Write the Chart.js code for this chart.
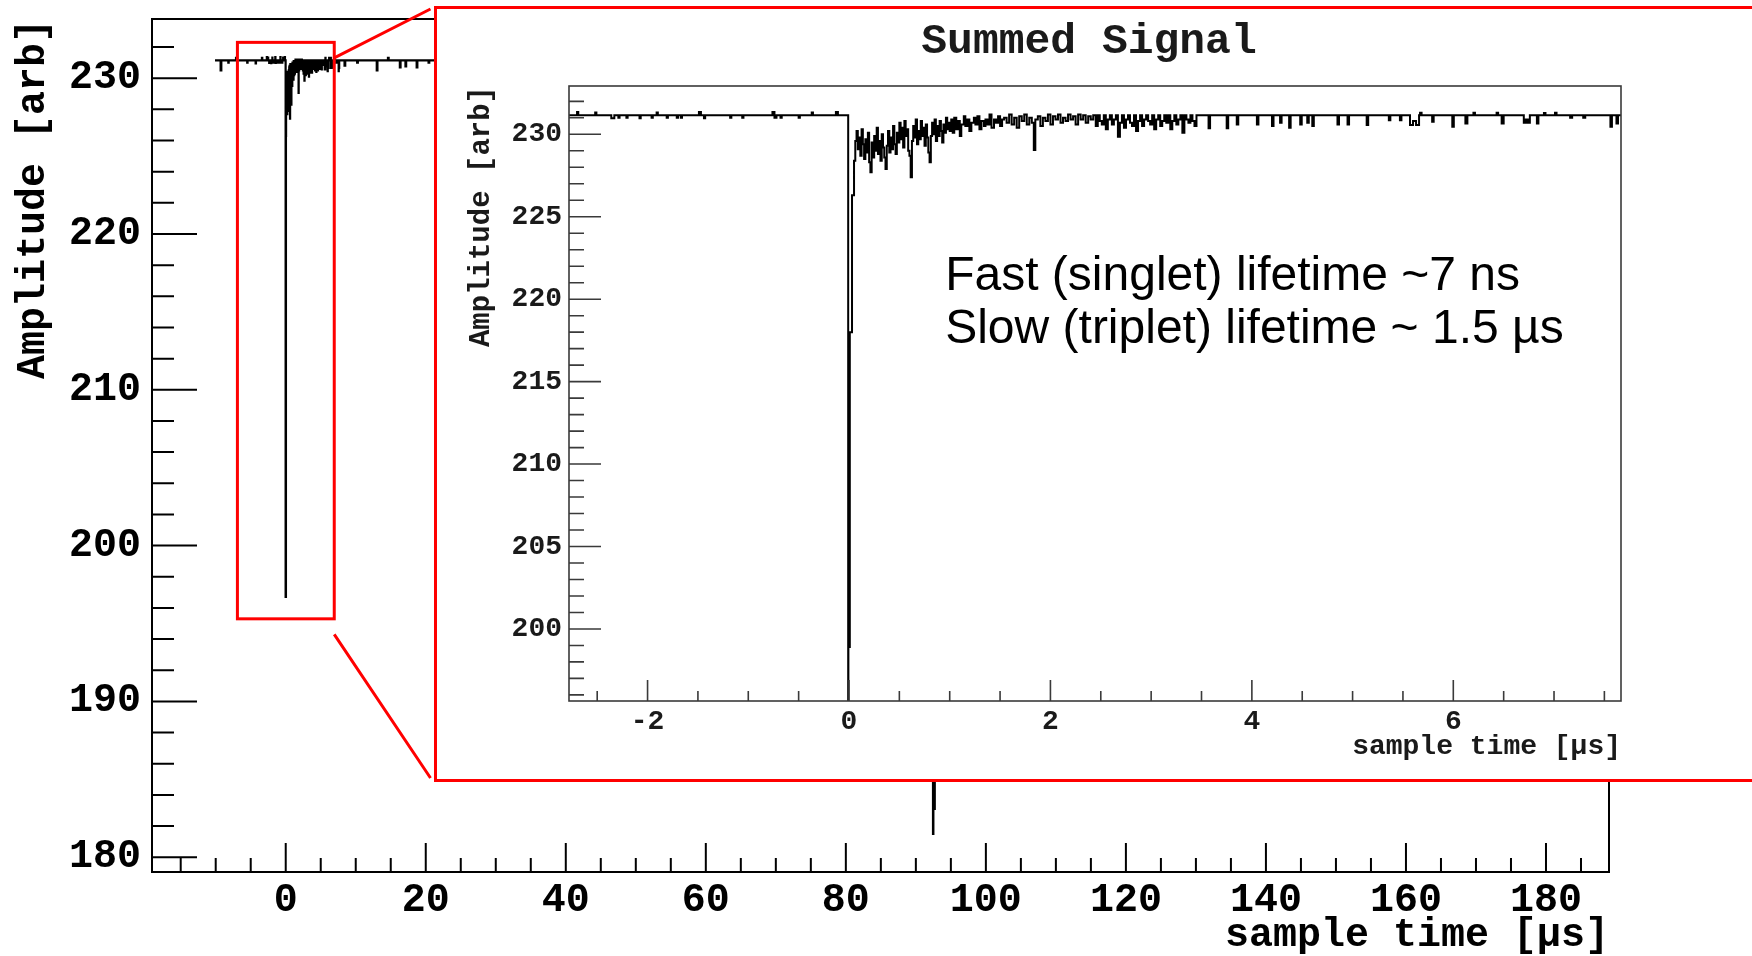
<!DOCTYPE html>
<html>
<head>
<meta charset="utf-8">
<script src="https://cdn.jsdelivr.net/npm/chart.js@4.4.0/dist/chart.umd.min.js"></script>
<style>
  html, body { margin: 0; padding: 0; background: #fff; overflow: hidden; }
  #page { position: relative; width: 1752px; height: 956px; overflow: hidden; }
  #mainChart { position: absolute; left: 0; top: 0; }
  #insetBox { position: absolute; left: 434px; top: 6px; width: 1330px; height: 770px;
              border: 3px solid #ff0000; background: #fff; }
  #insetChart { position: absolute; left: 0; top: 0; }
</style>
</head>
<body>
<div id="page">
  <canvas id="mainChart" width="1752" height="956"></canvas>
  <div id="insetBox"><canvas id="insetChart" width="1315" height="770"></canvas></div>
</div>
<script>
// Summed PMT signal - full record plus zoom on the prompt pulse

// tick labels
const mainXTicks = [0, 20, 40, 60, 80, 100, 120, 140, 160, 180];
const mainYTicks = [180, 190, 200, 210, 220, 230];
const insetXTicks = [-2, 0, 2, 4, 6];
const insetYTicks = [200, 205, 210, 215, 220, 225, 230];

// waveform samples [time µs, amplitude arb]
const mainEarly = [
  [-10.1, 231.15], [-9.3, 230.5], [-9.2, 231.15], [-8.2, 231.0], [-8.15, 231.15],
  [-7.1, 231.3], [-7.05, 231.15], [-5.5, 231.0], [-5.45, 231.15], [-4.3, 230.95],
  [-4.25, 231.15], [-3.4, 231.3], [-3.35, 231.15]
];

const preTrigger = [
  [-2.90, 231.15], [-2.70, 231.35], [-2.688, 231.15], [-2.52, 231.32], [-2.508, 231.15],
  [-2.36, 230.98], [-2.33, 231.15], [-2.29, 231.0], [-2.278, 231.15], [-2.21, 231.0],
  [-2.198, 231.15], [-2.08, 230.97], [-2.068, 231.15], [-1.96, 231.0], [-1.948, 231.15],
  [-1.91, 231.32], [-1.898, 231.15], [-1.81, 231.0], [-1.798, 231.15], [-1.71, 231.0],
  [-1.698, 231.15], [-1.67, 231.0], [-1.658, 231.15], [-1.49, 231.35], [-1.47, 231.15],
  [-1.44, 230.98], [-1.428, 231.15], [-1.18, 231.0], [-1.168, 231.15], [-1.06, 231.0],
  [-1.048, 231.15], [-0.76, 231.35], [-0.74, 231.0], [-0.72, 231.15], [-0.68, 231.0],
  [-0.668, 231.15], [-0.50, 231.0], [-0.488, 231.15], [-0.37, 231.32], [-0.358, 231.15],
  [-0.13, 231.35], [-0.11, 231.15]
];

// fast component as seen in the full record and in the zoom
const promptMain = [[-0.015, 196.7], [0.03, 226.3]];
const promptInset = [[-0.008, 195.0], [-0.006, 198.9], [0.008, 218.0], [0.03, 226.3]];

const slowTail = [
  [0.0500, 228.4], [0.0625, 229.6], [0.0750, 230.2], [0.0875, 229.1], [0.1000, 229.8],
  [0.1125, 228.7], [0.1250, 230.3], [0.1375, 229.4], [0.1500, 228.5], [0.1625, 229.7],
  [0.1750, 228.9], [0.1875, 230.1], [0.2000, 228.3], [0.2125, 227.7], [0.2250, 229.5],
  [0.2375, 228.6], [0.2500, 229.9], [0.2625, 229.0], [0.2750, 230.4], [0.2875, 228.8],
  [0.3000, 229.6], [0.3125, 228.4], [0.3250, 230.0], [0.3375, 229.2], [0.3500, 228.6],
  [0.3625, 227.9], [0.3750, 229.3], [0.3875, 230.2], [0.4000, 228.9], [0.4125, 229.8],
  [0.4250, 229.1], [0.4375, 230.5], [0.4500, 229.4], [0.4625, 228.8], [0.4750, 230.1],
  [0.4875, 229.5], [0.5000, 230.7], [0.5125, 229.7], [0.5250, 230.4], [0.5375, 229.2],
  [0.5500, 230.8], [0.5625, 229.9], [0.5750, 230.3], [0.5875, 229.0], [0.6000, 228.7],
  [0.6125, 227.4], [0.6250, 229.6], [0.6375, 230.5], [0.6500, 229.8], [0.6625, 230.9],
  [0.6750, 229.4], [0.6875, 230.2], [0.7000, 229.7], [0.7125, 230.8], [0.7250, 229.9],
  [0.7375, 230.4], [0.7500, 229.3], [0.7625, 230.6], [0.7750, 229.8], [0.7875, 228.9],
  [0.8000, 228.3], [0.8125, 229.9], [0.8250, 230.7], [0.8375, 230.0], [0.8500, 230.9],
  [0.8625, 229.6], [0.8750, 230.5], [0.8875, 229.9], [0.9000, 230.8], [0.9125, 230.2],
  [0.9250, 229.5], [0.9375, 230.6], [0.9500, 230.1], [0.9625, 231.0], [0.9750, 230.3],
  [0.9875, 230.7], [1.000, 230.2], [1.015, 230.9], [1.030, 230.1], [1.045, 231.0],
  [1.065, 230.3], [1.080, 230.8], [1.100, 229.9], [1.115, 230.6], [1.140, 231.1],
  [1.155, 230.5], [1.175, 230.9], [1.195, 230.2], [1.215, 230.7], [1.240, 231.0],
  [1.255, 230.6], [1.275, 231.1], [1.295, 230.3], [1.315, 230.8], [1.340, 230.5],
  [1.355, 230.9], [1.375, 230.6], [1.395, 231.2], [1.415, 230.4], [1.440, 230.9],
  [1.460, 230.7], [1.480, 231.1], [1.500, 230.5], [1.520, 230.9], [1.540, 231.0],
  [1.565, 230.7], [1.590, 231.2], [1.615, 230.6], [1.640, 231.0], [1.665, 230.4],
  [1.690, 231.1], [1.715, 230.8], [1.740, 231.2], [1.765, 230.6], [1.790, 231.0],
  [1.815, 230.7], [1.835, 229.05], [1.850, 230.9], [1.875, 231.1], [1.900, 230.5],
  [1.925, 231.0], [1.950, 230.8], [1.975, 231.2], [2.000, 230.6], [2.025, 231.1],
  [2.050, 230.9], [2.075, 231.2], [2.100, 230.7], [2.125, 231.0], [2.150, 230.8],
  [2.175, 231.2], [2.200, 230.9], [2.225, 231.1], [2.250, 230.6], [2.275, 231.2],
  [2.300, 230.9], [2.325, 231.15], [2.350, 230.7], [2.375, 231.1], [2.400, 230.9],
  [2.425, 231.15]
];

const lateTail = [
  [2.45, 230.5], [2.47, 231.15], [2.49, 230.8], [2.51, 230.6], [2.53, 231.15], [2.55, 230.3],
  [2.57, 230.9], [2.59, 231.15], [2.61, 230.6], [2.63, 230.9], [2.65, 231.15], [2.67, 229.85],
  [2.69, 230.7], [2.71, 231.15], [2.73, 230.4], [2.75, 230.9], [2.77, 231.15], [2.79, 230.7],
  [2.81, 230.5], [2.83, 231.15], [2.85, 230.2], [2.87, 230.8], [2.89, 231.15], [2.91, 230.5],
  [2.93, 230.9], [2.95, 231.15], [2.97, 230.8], [2.99, 230.6], [3.01, 231.15], [3.03, 230.3],
  [3.05, 230.9], [3.07, 231.15], [3.09, 230.5], [3.11, 230.8], [3.13, 231.15], [3.15, 230.7],
  [3.17, 231.15], [3.19, 230.3], [3.21, 230.8], [3.23, 231.15], [3.25, 230.6], [3.27, 230.9],
  [3.29, 231.15], [3.31, 230.1], [3.33, 231.15], [3.35, 230.9], [3.37, 230.7], [3.39, 231.15],
  [3.41, 230.8], [3.43, 230.5], [3.45, 231.15],
  [3.57, 230.36], [3.585, 231.15], [3.75, 230.36], [3.765, 231.15], [3.85, 230.6], [3.865, 231.15],
  [4.05, 230.6], [4.065, 231.15], [4.20, 230.5], [4.215, 231.15], [4.28, 230.7], [4.295, 231.15],
  [4.37, 230.4], [4.385, 231.15], [4.48, 230.6], [4.495, 231.15], [4.55, 230.7], [4.565, 231.15],
  [4.60, 230.5], [4.615, 231.15], [4.85, 230.6], [4.865, 231.15], [4.95, 230.6], [4.965, 231.15],
  [5.14, 230.56], [5.155, 231.15], [5.36, 230.86], [5.375, 231.15], [5.47, 230.86], [5.485, 231.15],
  [5.57, 230.56], [5.60, 230.8], [5.63, 230.56], [5.66, 231.15], [5.67, 231.31], [5.685, 231.15],
  [5.79, 230.76], [5.805, 231.15], [5.99, 230.46], [6.005, 231.15], [6.12, 230.66], [6.14, 231.15],
  [6.20, 231.31], [6.215, 231.15], [6.43, 231.31], [6.445, 231.15], [6.48, 230.66], [6.50, 231.15],
  [6.70, 230.7], [6.72, 230.9], [6.74, 230.7], [6.76, 231.15], [6.83, 230.66], [6.845, 231.15],
  [6.90, 231.3], [6.915, 231.15], [7.01, 231.31], [7.025, 231.15], [7.16, 231.0], [7.18, 231.15],
  [7.29, 231.0], [7.31, 231.15], [7.56, 230.46], [7.575, 231.15], [7.62, 230.66], [7.635, 231.15],
  [7.72, 231.15]
];

// rest of the record, second pulse near 92.5 µs
const mainLate = [
  [7.75, 231.15], [8.4, 230.8], [8.5, 231.15], [10.2, 231.0], [10.3, 231.15], [13.0, 230.5],
  [13.1, 231.15], [14.6, 231.3], [14.7, 231.15], [16.3, 230.7], [16.4, 231.15], [17.1, 230.75],
  [17.2, 231.15], [18.7, 230.7], [18.8, 231.15], [20.4, 231.0], [20.5, 231.15], [92.45, 181.5],
  [92.5, 183.1], [92.7, 226.5], [92.9, 228.8], [93.2, 229.9], [93.8, 230.6], [94.8, 231.0],
  [96.0, 231.15], [188.0, 231.15]
];

// region of the full record shown in the zoom
const zoomBox = { xMin: -6.9, xMax: 6.93, yMin: 195.3, yMax: 232.3, linkTop: 231.3, linkBottom: 194.3 };

const monoFont = "'Liberation Mono', 'DejaVu Sans Mono', monospace";
const sansFont = "'Liberation Sans', Arial, sans-serif";

function toXY(rows) {
  return rows.map(r => ({ x: r[0], y: r[1] }));
}

function minorTicks(min, max, step) {
  const out = [];
  for (let v = Math.ceil(min / step) * step; v <= max + 1e-9; v += step) {
    out.push(Math.round(v * 1000) / 1000);
  }
  return out;
}

// keep the frame exactly where the layout padding puts it
function fixHeight(h) {
  return s => { s.height = h; s.paddingLeft = 0; s.paddingRight = 0; };
}
function fixWidth(w) {
  return s => { s.width = w; s.paddingTop = 0; s.paddingBottom = 0; };
}

// ROOT style frame: box plus inward ticks on left and bottom axes
const rootFrame = {
  id: 'rootFrame',
  afterDatasetsDraw(chart, args, opts) {
    const { ctx, chartArea: a, scales: { x, y } } = chart;
    ctx.save();
    ctx.strokeStyle = opts.color;
    ctx.lineWidth = opts.tickWidth;
    ctx.beginPath();
    opts.xMinor.forEach(v => {
      const px = x.getPixelForValue(v);
      const len = opts.xMajor.includes(v) ? opts.xMajorLen : opts.xMinorLen;
      ctx.moveTo(px, a.bottom);
      ctx.lineTo(px, a.bottom - len);
    });
    opts.yMinor.forEach(v => {
      const py = y.getPixelForValue(v);
      const len = opts.yMajor.includes(v) ? opts.yMajorLen : opts.yMinorLen;
      ctx.moveTo(a.left, py);
      ctx.lineTo(a.left + len, py);
    });
    ctx.stroke();
    ctx.lineWidth = opts.frameWidth;
    ctx.strokeRect(a.left, a.top, a.right - a.left, a.bottom - a.top);
    ctx.restore();
  }
};

const zoomMarker = {
  id: 'zoomMarker',
  afterDatasetsDraw(chart) {
    const { ctx, scales: { x, y } } = chart;
    const l = x.getPixelForValue(zoomBox.xMin);
    const r = x.getPixelForValue(zoomBox.xMax);
    const t = y.getPixelForValue(zoomBox.yMax);
    const b = y.getPixelForValue(zoomBox.yMin);
    const box = document.getElementById('insetBox');
    ctx.save();
    ctx.strokeStyle = '#ff0000';
    ctx.lineWidth = 3;
    ctx.strokeRect(l, t, r - l, b - t);
    ctx.beginPath();
    ctx.moveTo(r, y.getPixelForValue(zoomBox.linkTop));
    ctx.lineTo(box.offsetLeft - 3.5, box.offsetTop + 3);
    ctx.moveTo(r, y.getPixelForValue(zoomBox.linkBottom));
    ctx.lineTo(box.offsetLeft - 3.5, box.offsetTop + box.offsetHeight - 4);
    ctx.stroke();
    ctx.restore();
  }
};

const insetText = {
  id: 'insetText',
  afterDraw(chart) {
    const { ctx, chartArea: a, scales: { x, y } } = chart;
    ctx.save();
    ctx.fillStyle = '#1a1a1a';
    ctx.font = 'bold 43px ' + monoFont;
    ctx.textAlign = 'center';
    ctx.textBaseline = 'middle';
    ctx.fillText('Summed Signal', (a.left + a.right) / 2 - 6, 33);
    ctx.fillStyle = '#000';
    ctx.font = '48px ' + sansFont;
    ctx.textAlign = 'left';
    ctx.textBaseline = 'alphabetic';
    const tx = x.getPixelForValue(0.955);
    const ty = y.getPixelForValue(220.55);
    ctx.fillText('Fast (singlet) lifetime ~7 ns', tx, ty);
    ctx.fillText('Slow (triplet) lifetime ~ 1.5 \u00b5s', tx, ty + 53);
    ctx.restore();
  }
};

const mainTrace = toXY([...mainEarly, ...preTrigger, ...promptMain, ...slowTail, ...lateTail, ...mainLate]);
const insetTrace = toXY([...preTrigger, ...promptInset, ...slowTail, ...lateTail]);

const mainRange = { xMin: -19.1, xMax: 189, yMin: 179.05, yMax: 233.8 };
const insetRange = { xMin: -2.78, xMax: 7.665, yMin: 195.63, yMax: 232.93 };

new Chart(document.getElementById('mainChart'), {
  type: 'line',
  data: {
    datasets: [{
      data: mainTrace,
      borderColor: '#000',
      borderWidth: 2.2,
      pointRadius: 0,
      stepped: true,
      tension: 0
    }]
  },
  options: {
    responsive: false,
    animation: false,
    devicePixelRatio: 1,
    layout: { padding: { left: 0, top: 19, right: 143, bottom: 0 } },
    plugins: {
      legend: { display: false },
      tooltip: { enabled: false },
      rootFrame: {
        color: '#000', tickWidth: 2, frameWidth: 2,
        xMajor: mainXTicks, xMinor: minorTicks(mainRange.xMin, mainRange.xMax, 5),
        yMajor: mainYTicks, yMinor: minorTicks(mainRange.yMin, mainRange.yMax, 2),
        xMajorLen: 29, xMinorLen: 14, yMajorLen: 45, yMinorLen: 22
      }
    },
    scales: {
      x: {
        type: 'linear',
        min: mainRange.xMin,
        max: mainRange.xMax,
        afterBuildTicks: s => { s.ticks = mainXTicks.map(v => ({ value: v })); },
        afterFit: fixHeight(84),
        grid: { display: false, drawTicks: false },
        border: { display: false },
        ticks: {
          autoSkip: false, maxRotation: 0, padding: 5, color: '#000',
          font: { family: monoFont, size: 40, weight: 'bold' },
          callback: v => String(v)
        },
        title: {
          display: true, text: 'sample time [\u00b5s]', align: 'end', color: '#000',
          font: { family: monoFont, size: 40, weight: 'bold', lineHeight: 1 },
          padding: { top: 0, bottom: 0 }
        }
      },
      y: {
        type: 'linear',
        min: mainRange.yMin,
        max: mainRange.yMax,
        afterBuildTicks: s => { s.ticks = mainYTicks.map(v => ({ value: v })); },
        afterFit: fixWidth(152),
        grid: { display: false, drawTicks: false },
        border: { display: false },
        ticks: {
          autoSkip: false, padding: 11, color: '#000',
          font: { family: monoFont, size: 40, weight: 'bold' },
          callback: v => String(v)
        },
        title: {
          display: true, text: 'Amplitude [arb]', align: 'end', color: '#000',
          font: { family: monoFont, size: 40, weight: 'bold' },
          padding: { top: 10, bottom: 0 }
        }
      }
    }
  },
  plugins: [rootFrame, zoomMarker]
});

new Chart(document.getElementById('insetChart'), {
  type: 'line',
  data: {
    datasets: [{
      data: insetTrace,
      borderColor: '#000',
      borderWidth: 2,
      pointRadius: 0,
      stepped: true,
      tension: 0
    }]
  },
  options: {
    responsive: false,
    animation: false,
    devicePixelRatio: 1,
    layout: { padding: { left: 0, top: 77, right: 131, bottom: 0 } },
    plugins: {
      legend: { display: false },
      tooltip: { enabled: false },
      rootFrame: {
        color: '#3a3a3a', tickWidth: 1.6, frameWidth: 1.6,
        xMajor: insetXTicks, xMinor: minorTicks(insetRange.xMin, insetRange.xMax, 0.5),
        yMajor: insetYTicks, yMinor: minorTicks(insetRange.yMin, insetRange.yMax, 1),
        xMajorLen: 21, xMinorLen: 10, yMajorLen: 32, yMinorLen: 15
      }
    },
    scales: {
      x: {
        type: 'linear',
        min: insetRange.xMin,
        max: insetRange.xMax,
        afterBuildTicks: s => { s.ticks = insetXTicks.map(v => ({ value: v })); },
        afterFit: fixHeight(78),
        grid: { display: false, drawTicks: false },
        border: { display: false },
        ticks: {
          autoSkip: false, maxRotation: 0, padding: 4, color: '#1a1a1a',
          font: { family: monoFont, size: 28, weight: 'bold' },
          callback: v => String(v)
        },
        title: {
          display: true, text: 'sample time [\u00b5s]', align: 'end', color: '#1a1a1a',
          font: { family: monoFont, size: 28, weight: 'bold' },
          padding: { top: 0, bottom: 15 }
        }
      },
      y: {
        type: 'linear',
        min: insetRange.yMin,
        max: insetRange.yMax,
        afterBuildTicks: s => { s.ticks = insetYTicks.map(v => ({ value: v })); },
        afterFit: fixWidth(132),
        grid: { display: false, drawTicks: false },
        border: { display: false },
        ticks: {
          autoSkip: false, padding: 7, color: '#1a1a1a',
          font: { family: monoFont, size: 28, weight: 'bold' },
          callback: v => String(v)
        },
        title: {
          display: true, text: 'Amplitude [arb]', align: 'end', color: '#1a1a1a',
          font: { family: monoFont, size: 29, weight: 'bold' },
          padding: { top: 27, bottom: 0 }
        }
      }
    }
  },
  plugins: [rootFrame, insetText]
});
</script>
</body>
</html>
